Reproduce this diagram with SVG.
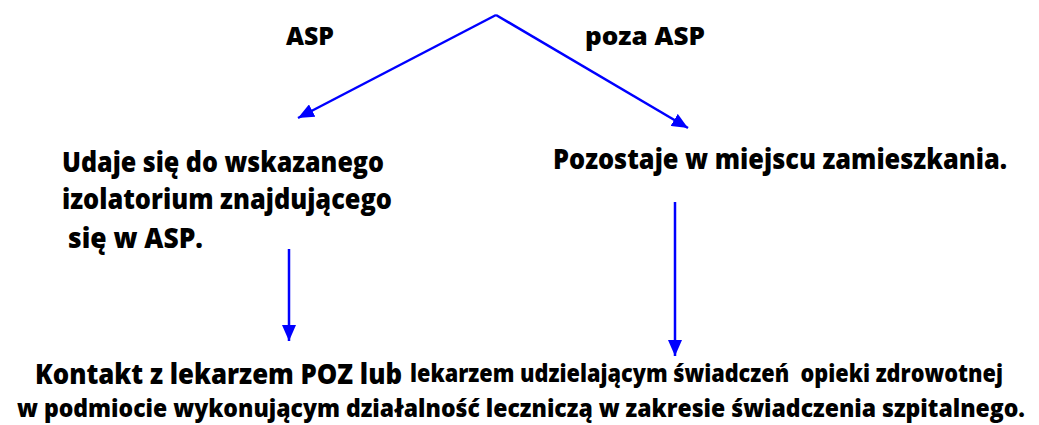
<svg xmlns="http://www.w3.org/2000/svg" width="1039" height="425" viewBox="0 0 1039 425">
  <style>
    .t { font-family: "Open Sans", "Liberation Sans", sans-serif; font-weight: 800; fill: #000; }
    .big { font-size: 28px; }
    .lab { font-size: 25px; }
    .mid { font-size: 28px; }
    .small { font-size: 25px; }
    .conn { stroke: #0000FF; stroke-width: 2.5; fill: none; }
  </style>
  <defs>
    <marker id="arrow" markerUnits="userSpaceOnUse" markerWidth="16" markerHeight="14" refX="16" refY="7" orient="auto">
      <path d="M0,0 L16,7 L0,14 z" fill="#0000FF"/>
    </marker>
  </defs>

  <g id="connectors">
    <line class="conn" x1="496" y1="15" x2="298" y2="118" marker-end="url(#arrow)"/>
    <line class="conn" x1="496" y1="15" x2="688" y2="128" marker-end="url(#arrow)"/>
    <line class="conn" x1="289" y1="249" x2="289" y2="341" marker-end="url(#arrow)"/>
    <line class="conn" x1="675" y1="202" x2="675" y2="356" marker-end="url(#arrow)"/>
  </g>

  <g id="label-asp">
    <text class="t lab" x="286" y="45" textLength="48" lengthAdjust="spacingAndGlyphs">ASP</text>
  </g>
  <g id="label-poza-asp">
    <text class="t lab" x="585" y="45" textLength="120" lengthAdjust="spacingAndGlyphs">poza ASP</text>
  </g>

  <g id="node-left">
    <text class="t big" x="62" y="172" textLength="322" lengthAdjust="spacingAndGlyphs">Udaje się do wskazanego</text>
    <text class="t big" x="62" y="209" textLength="330" lengthAdjust="spacingAndGlyphs">izolatorium znajdującego</text>
    <text class="t big" x="68" y="248" textLength="135" lengthAdjust="spacingAndGlyphs">się w ASP.</text>
  </g>

  <g id="node-right">
    <text class="t big" x="553" y="169" textLength="454" lengthAdjust="spacingAndGlyphs">Pozostaje w miejscu zamieszkania.</text>
  </g>

  <g id="node-bottom">
    <text class="t mid" x="35" y="384" textLength="367" lengthAdjust="spacingAndGlyphs">Kontakt z lekarzem POZ lub</text>
    <text class="t small" x="410" y="382" textLength="593" lengthAdjust="spacingAndGlyphs" xml:space="preserve" style="white-space: pre">lekarzem udzielającym świadczeń  opieki zdrowotnej</text>
    <text class="t small" x="17" y="417" textLength="1008" lengthAdjust="spacingAndGlyphs">w podmiocie wykonującym działalność leczniczą w zakresie świadczenia szpitalnego.</text>
  </g>
</svg>
